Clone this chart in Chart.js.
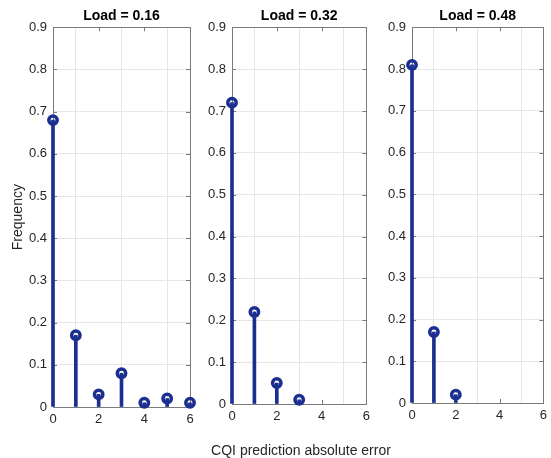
<!DOCTYPE html>
<html>
<head>
<meta charset="utf-8">
<script src="https://cdn.jsdelivr.net/npm/chart.js@4.4.1/dist/chart.umd.min.js"></script>
<style>
  html, body { margin: 0; padding: 0; background: #fff; }
  body { width: 551px; height: 458px; position: relative; overflow: hidden; }
  canvas { position: absolute; top: 0; }
  #xlabel {
    position: absolute; left: 201px; width: 200px; top: 442px;
    text-align: center; white-space: nowrap;
    font: 14px 'Liberation Sans', Arial, Helvetica, sans-serif; color: #262626;
  }
</style>
</head>
<body>
<canvas id="p1" width="200" height="458" style="left:0px"></canvas>
<canvas id="p2" width="180" height="458" style="left:195px"></canvas>
<canvas id="p3" width="177" height="458" style="left:375px"></canvas>
<div id="xlabel"></div>
<script>
// values
const titles = ["Load = 0.16", "Load = 0.32", "Load = 0.48"];
const errors1 = [0, 1, 2, 3, 4, 5, 6];
const freq1 = [0.68, 0.17, 0.03, 0.08, 0.01, 0.02, 0.01];
const errors2 = [0, 1, 2, 3];
const freq2 = [0.72, 0.22, 0.05, 0.01];
const errors3 = [0, 1, 2];
const freq3 = [0.81, 0.17, 0.02];
const xTicks = [0, 2, 4, 6];
const yTicks = [0, 0.1, 0.2, 0.3, 0.4, 0.5, 0.6, 0.7, 0.8, 0.9];
const yLabel = "Frequency";
const xLabel = "CQI prediction absolute error";

const STEM = "#1b2f91";
const AXIS = "#7a7a7a";
const GRID = "#e6e6e6";
const FONT = "'Liberation Sans', Arial, Helvetica, sans-serif";

document.getElementById("xlabel").textContent = xLabel;

// MATLAB style box with inward ticks
const boxPlugin = {
  id: "box",
  beforeDatasetsDraw(chart) {
    const { ctx, chartArea: a, scales } = chart;
    ctx.save();
    ctx.strokeStyle = AXIS;
    ctx.lineWidth = 1;
    ctx.strokeRect(Math.round(a.left) + 0.5, Math.round(a.top) + 0.5,
      Math.round(a.right - a.left), Math.round(a.bottom - a.top));
    const tl = 4;
    ctx.beginPath();
    yTicks.forEach(v => {
      const y = Math.round(scales.y.getPixelForValue(v)) + 0.5;
      ctx.moveTo(a.left, y); ctx.lineTo(a.left + tl, y);
      ctx.moveTo(a.right, y); ctx.lineTo(a.right - tl, y);
    });
    xTicks.forEach(v => {
      const x = Math.round(scales.x.getPixelForValue(v)) + 0.5;
      ctx.moveTo(x, a.bottom); ctx.lineTo(x, a.bottom - tl);
      ctx.moveTo(x, a.top); ctx.lineTo(x, a.top + tl);
    });
    ctx.stroke();
    ctx.restore();
  }
};

function makePanel(id, title, errs, freqs, opt) {
  const pts = errs.map((e, i) => ({ x: e, y: freqs[i] }));
  return new Chart(document.getElementById(id), {
    type: "bar",
    data: {
      datasets: [
        {
          type: "line",
          data: pts,
          showLine: false,
          pointRadius: 4.2,
          pointHoverRadius: 4.2,
          pointBorderWidth: 3.5,
          pointBorderColor: STEM,
          pointBackgroundColor: "rgba(0,0,0,0)",
          clip: false,
          order: 0
        },
        {
          data: pts,
          backgroundColor: STEM,
          barThickness: 3,
          clip: false,
          order: 1
        }
      ]
    },
    options: {
      responsive: false,
      animation: false,
      devicePixelRatio: 1,
      layout: { padding: { left: 0, right: opt.padRight, top: 0, bottom: 0 } },
      plugins: {
        legend: { display: false },
        tooltip: { enabled: false },
        title: {
          display: true,
          text: title,
          fullSize: false,
          color: "#000",
          font: { family: FONT, size: 14, weight: "bold", lineHeight: 1.2 },
          padding: { top: 8, bottom: 2.5 }
        }
      },
      scales: {
        x: {
          type: "linear",
          min: 0,
          max: 6,
          offset: false,
          afterBuildTicks: s => { s.ticks = xTicks.map(v => ({ value: v })); },
          afterFit: s => { s.height = opt.xHeight; },
          grid: { color: GRID, drawTicks: false },
          border: { display: false },
          ticks: { color: "#262626", padding: 5, maxRotation: 0, font: { family: FONT, size: 13 } }
        },
        y: {
          min: 0,
          max: 0.9,
          afterBuildTicks: s => { s.ticks = yTicks.map(v => ({ value: v })); },
          afterFit: s => { s.width = opt.yWidth; },
          grid: { color: GRID, drawTicks: false },
          border: { display: false },
          ticks: { color: "#262626", padding: 6, font: { family: FONT, size: 13 } },
          title: {
            display: !!opt.yTitle,
            text: opt.yTitle || "",
            color: "#262626",
            font: { family: FONT, size: 14 },
            padding: { top: 9.6, bottom: 0 }
          }
        }
      }
    },
    plugins: [boxPlugin]
  });
}

makePanel("p1", titles[0], errors1, freq1, { yWidth: 53, xHeight: 51, padRight: 10, yTitle: yLabel });
makePanel("p2", titles[1], errors2, freq2, { yWidth: 37, xHeight: 54, padRight: 6 });
makePanel("p3", titles[2], errors3, freq3, { yWidth: 37, xHeight: 55, padRight: 4 });
</script>
</body>
</html>
